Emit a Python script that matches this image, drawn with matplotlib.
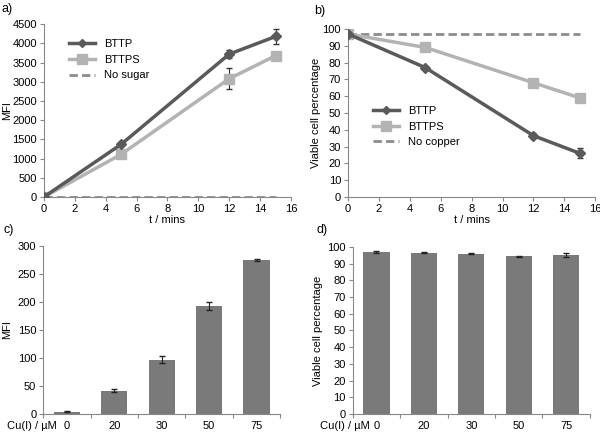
import matplotlib
matplotlib.use("Agg")
import matplotlib.pyplot as plt
from matplotlib.lines import Line2D
import numpy as np

plt.rcParams['font.family'] = ['Liberation Sans', 'DejaVu Sans']
plt.rcParams['font.size'] = 8

# Data
t = [0, 5, 12, 15]
mfi_bttp = [0, 1370, 3720, 4180]
mfi_bttp_err = [20, 40, 100, 190]
mfi_bttps = [0, 1110, 3080, 3680]
mfi_bttps_err = [20, 40, 270, 30]
mfi_nosugar = [0, 0, 0, 0]

via_bttp = [97, 77, 36.5, 26]
via_bttp_err = [1, 1, 1.5, 3]
via_bttps = [97, 89, 68, 59]
via_bttps_err = [1, 1, 1, 1]
via_nocopper = [97, 97, 97, 97]

cu_labels = ['0', '20', '30', '50', '75']
cu_mfi = [4, 41, 97, 192, 275]
cu_mfi_err = [0.5, 2.5, 7, 7, 2]
cu_via = [97, 96.7, 96.1, 94.6, 95]
cu_via_err = [0.7, 0.3, 0.3, 0.3, 1.2]

C_DARK = '#5a5a5a'
C_LIGHT = '#b3b3b3'
C_DASH = '#8c8c8c'
C_BAR = '#7a7a7a'
C_AX = '#888888'
DASH = (0, (3, 1.5))

fig = plt.figure(figsize=(6, 4.32), dpi=100)

def style(ax):
    for s in ['top', 'right']:
        ax.spines[s].set_visible(False)
    for s in ['left', 'bottom']:
        ax.spines[s].set_color(C_AX)
        ax.spines[s].set_linewidth(0.8)
    ax.tick_params(direction='out', length=3, width=0.8, color=C_AX, labelsize=8, pad=2)

def handles(third):
    return [Line2D([], [], color=C_DARK, lw=2.5, marker='D', ms=4.5, label='BTTP'),
            Line2D([], [], color=C_LIGHT, lw=2.5, marker='s', ms=6.5, label='BTTPS'),
            Line2D([], [], color=C_DASH, lw=2, ls=DASH, label=third)]

# Panel a
axa = fig.add_axes([0.073, 0.544, 0.412, 0.400])
style(axa)
axa.plot(t, mfi_nosugar, color=C_DASH, lw=2, ls=DASH, zorder=1)
axa.errorbar(t, mfi_bttps, yerr=mfi_bttps_err, color=C_LIGHT, lw=2.5, marker='s', ms=7,
             ecolor='#333333', elinewidth=0.8, capsize=2.5, zorder=2)
axa.errorbar(t, mfi_bttp, yerr=mfi_bttp_err, color=C_DARK, lw=2.5, marker='D', ms=5,
             ecolor='#333333', elinewidth=0.8, capsize=2.5, zorder=3)
axa.set_xlim(0, 16)
axa.set_ylim(0, 4500)
axa.set_xticks(range(0, 17, 2))
axa.set_yticks(range(0, 4501, 500))
axa.set_xlabel('t / mins', labelpad=1)
axa.set_ylabel('MFI')
axa.yaxis.set_label_coords(-0.13, 0.5)
axa.legend(handles=handles('No sugar'), loc='upper left', bbox_to_anchor=(0.06, 0.97),
           frameon=False, handlelength=2.4, labelspacing=0.5, handletextpad=0.8)

# Panel b
axb = fig.add_axes([0.58, 0.544, 0.412, 0.389])
style(axb)
axb.plot(t, via_nocopper, color=C_DASH, lw=2, ls=DASH, zorder=1)
axb.errorbar(t, via_bttps, yerr=via_bttps_err, color=C_LIGHT, lw=2.5, marker='s', ms=7,
             ecolor='#333333', elinewidth=0.8, capsize=2.5, zorder=2)
axb.errorbar(t, via_bttp, yerr=via_bttp_err, color=C_DARK, lw=2.5, marker='D', ms=5,
             ecolor='#333333', elinewidth=0.8, capsize=2.5, zorder=3)
axb.set_xlim(0, 16)
axb.set_ylim(0, 100)
axb.set_xticks(range(0, 17, 2))
axb.set_yticks(range(0, 101, 10))
axb.set_xlabel('t / mins', labelpad=1)
axb.set_ylabel('Viable cell percentage')
axb.yaxis.set_label_coords(-0.11, 0.5)
axb.legend(handles=handles('No copper'), loc='upper left', bbox_to_anchor=(0.06, 0.6),
           frameon=False, handlelength=2.4, labelspacing=0.5, handletextpad=0.8)

# Panel c
x = np.arange(len(cu_labels))
axc = fig.add_axes([0.072, 0.042, 0.395, 0.389])
style(axc)
axc.bar(x, cu_mfi, width=0.55, color=C_BAR, yerr=cu_mfi_err,
        error_kw=dict(ecolor='#222222', elinewidth=0.8, capsize=2.5))
axc.set_xlim(-0.5, len(cu_labels) - 0.5)
axc.set_ylim(0, 300)
axc.set_yticks(range(0, 301, 50))
axc.set_xticks(x)
axc.set_xticklabels(cu_labels)
axc.set_xticks(np.arange(-0.5, len(cu_labels)), minor=True)
axc.tick_params(axis='x', which='major', length=0, pad=5)
axc.tick_params(axis='x', which='minor', length=3, color=C_AX, width=0.8)
axc.set_ylabel('MFI')
axc.yaxis.set_label_coords(-0.13, 0.5)

# Panel d
axd = fig.add_axes([0.588, 0.042, 0.395, 0.386])
style(axd)
axd.bar(x, cu_via, width=0.55, color=C_BAR, yerr=cu_via_err,
        error_kw=dict(ecolor='#222222', elinewidth=0.8, capsize=2.5))
axd.set_xlim(-0.5, len(cu_labels) - 0.5)
axd.set_ylim(0, 100)
axd.set_yticks(range(0, 101, 10))
axd.set_xticks(x)
axd.set_xticklabels(cu_labels)
axd.set_xticks(np.arange(-0.5, len(cu_labels)), minor=True)
axd.tick_params(axis='x', which='major', length=0, pad=5)
axd.tick_params(axis='x', which='minor', length=3, color=C_AX, width=0.8)
axd.set_ylabel('Viable cell percentage')
axd.yaxis.set_label_coords(-0.125, 0.5)

# Category axis titles
fig.text(0.012, 1 - 426 / 432, 'Cu(I) / µM', ha='left', va='center', fontsize=8)
fig.text(0.533, 1 - 426 / 432, 'Cu(I) / µM', ha='left', va='center', fontsize=8)

# Panel labels
fig.text(0.003, 1 - 9 / 432, 'a)', ha='left', va='center', fontsize=9)
fig.text(0.523, 1 - 11 / 432, 'b)', ha='left', va='center', fontsize=9)
fig.text(0.005, 1 - 230 / 432, 'c)', ha='left', va='center', fontsize=9)
fig.text(0.528, 1 - 230 / 432, 'd)', ha='left', va='center', fontsize=9)

fig.savefig('out.png', dpi=100)
